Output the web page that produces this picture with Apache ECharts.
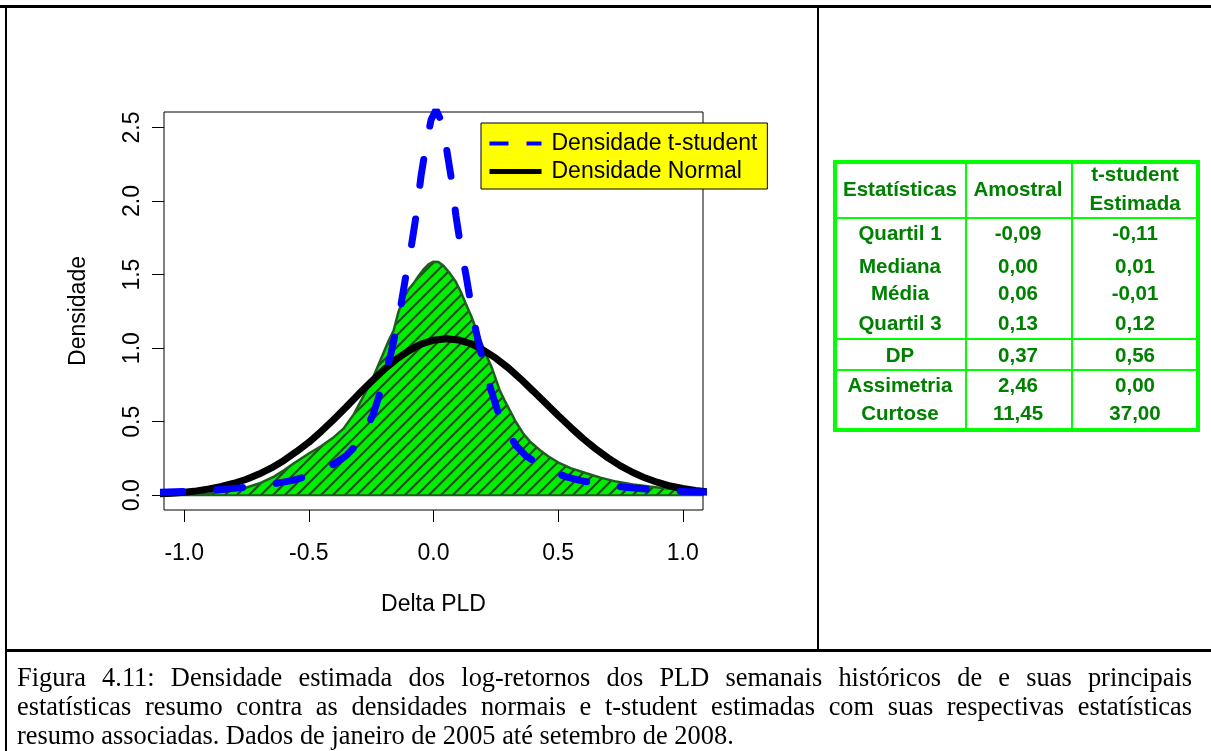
<!DOCTYPE html>
<html><head><meta charset="utf-8">
<script src="https://cdn.jsdelivr.net/npm/echarts@6.0.0/dist/echarts.min.js"></script>
<style>
html,body{margin:0;padding:0;background:#fff;width:1211px;height:751px;overflow:hidden;}
#chart{position:absolute;left:0;top:0;width:1211px;height:751px;}
.ln{position:absolute;background:#000;}
.g{position:absolute;background:#00ff00;}
.cell{position:absolute;transform:translate(-50%,-50%);white-space:nowrap;font-family:'Liberation Sans',Arial,sans-serif;font-weight:bold;font-size:20.5px;color:#008000;line-height:1;}
#cap{position:absolute;left:17px;width:1175px;top:663px;font-family:'Liberation Serif','Times New Roman',serif;font-size:26.4px;line-height:29px;color:#000;}
#cap div{text-align:justify;text-align-last:justify;}
#cap div.last{text-align:left;text-align-last:left;}
</style></head>
<body>
<div id="chart"></div>
<div id="overlay"></div>
<script>
// ---------- data ----------
const xTicks = [-1.0, -0.5, 0.0, 0.5, 1.0];
const yTicks = [0.0, 0.5, 1.0, 1.5, 2.0, 2.5];

// sample kernel density (green hatched)
const kdeX = [-1.10,-1.00,-0.95,-0.90,-0.83,-0.76,-0.70,-0.64,-0.60,-0.56,-0.50,-0.45,-0.40,-0.36,-0.32,-0.29,-0.26,-0.24,-0.21,-0.18,-0.16,-0.14,-0.12,-0.10,-0.08,-0.06,-0.04,-0.02,0.00,0.02,0.04,0.065,0.09,0.112,0.13,0.152,0.175,0.198,0.215,0.232,0.25,0.265,0.285,0.305,0.33,0.359,0.39,0.426,0.46,0.506,0.55,0.613,0.67,0.733,0.80,0.867,0.93,1.00,1.05,1.10];
const kdeY = [0.002,0.005,0.008,0.013,0.025,0.048,0.080,0.127,0.170,0.218,0.284,0.335,0.395,0.455,0.550,0.645,0.740,0.810,0.930,1.050,1.120,1.250,1.340,1.400,1.440,1.490,1.535,1.570,1.588,1.585,1.560,1.510,1.450,1.374,1.300,1.215,1.110,1.011,0.940,0.875,0.790,0.716,0.645,0.580,0.500,0.422,0.360,0.308,0.265,0.218,0.185,0.150,0.120,0.093,0.074,0.059,0.047,0.036,0.029,0.024];

// fitted normal density (black)
const normX = [-1.10,-1.05,-1.00,-0.95,-0.90,-0.85,-0.80,-0.75,-0.70,-0.65,-0.60,-0.55,-0.50,-0.45,-0.40,-0.35,-0.30,-0.25,-0.20,-0.15,-0.10,-0.05,0.00,0.05,0.10,0.15,0.20,0.25,0.30,0.35,0.40,0.45,0.50,0.55,0.60,0.65,0.70,0.75,0.80,0.85,0.90,0.95,1.00,1.05,1.10];
const normY = [0.010,0.014,0.021,0.030,0.043,0.060,0.082,0.109,0.144,0.186,0.237,0.296,0.360,0.435,0.515,0.600,0.688,0.772,0.852,0.923,0.982,1.027,1.054,1.064,1.056,1.030,0.987,0.932,0.866,0.790,0.708,0.625,0.542,0.462,0.385,0.316,0.254,0.200,0.155,0.117,0.087,0.063,0.046,0.033,0.023];

// fitted t-student density (blue dashed)
const tX = [-1.11,-0.99,-0.91,-0.83,-0.76,-0.69,-0.63,-0.57,-0.51,-0.45,-0.40,-0.35,-0.31,-0.27,-0.24,-0.21,-0.19,-0.17,-0.15,-0.13,-0.11,-0.09,-0.07,-0.05,-0.03,-0.01,0.01,0.03,0.05,0.07,0.09,0.11,0.13,0.15,0.17,0.19,0.21,0.23,0.26,0.29,0.33,0.37,0.42,0.47,0.53,0.59,0.65,0.71,0.78,0.85,0.93,1.01,1.13];
const tY = [0.020,0.026,0.033,0.042,0.053,0.066,0.081,0.100,0.127,0.165,0.212,0.270,0.340,0.450,0.560,0.720,0.840,0.970,1.120,1.300,1.500,1.680,1.900,2.170,2.380,2.550,2.620,2.550,2.380,2.170,1.900,1.680,1.500,1.300,1.120,0.970,0.840,0.720,0.560,0.450,0.340,0.270,0.212,0.165,0.127,0.100,0.081,0.066,0.053,0.042,0.033,0.026,0.020];

const legendNames = ['Densidade t-student', 'Densidade Normal'];
const xName = 'Delta PLD';
const yName = 'Densidade';

// statistics table
const tableHead = ['Estatísticas', 'Amostral', 't-student', 'Estimada'];
const statNames = ['Quartil 1', 'Mediana', 'Média', 'Quartil 3', 'DP', 'Assimetria', 'Curtose'];
const statSample = ['-0,09', '0,00', '0,06', '0,13', '0,37', '2,46', '11,45'];
const statT = ['-0,11', '0,01', '-0,01', '0,12', '0,56', '0,00', '37,00'];

const captionLines = [
  'Figura 4.11: Densidade estimada dos log-retornos dos PLD semanais históricos de e suas principais',
  'estatísticas resumo contra as densidades normais e t-student estimadas com suas respectivas estatísticas',
  'resumo associadas. Dados de janeiro de 2005 até setembro de 2008.'
];

// ---------- page decoration (frame, table, caption) ----------
const ov = document.getElementById('overlay');
function box(cls, l, t, w, h) { const d = document.createElement('div'); d.className = cls; d.style.left = l + 'px'; d.style.top = t + 'px'; d.style.width = w + 'px'; d.style.height = h + 'px'; ov.appendChild(d); }
box('ln', 0, 5, 1211, 3);
box('ln', 5, 5, 2, 746);
box('ln', 817, 5, 2, 645);
box('ln', 5, 649, 1206, 3);

// table lines
box('g', 833, 160, 367, 4);
box('g', 833, 428, 367, 4);
box('g', 833, 160, 4, 272);
box('g', 1196, 160, 4, 272);
box('g', 965, 160, 2, 272);
box('g', 1071, 160, 2, 272);
box('g', 833, 217, 367, 2);
box('g', 833, 338, 367, 2);
box('g', 833, 369, 367, 2);

function cell(txt, cx, cy) { const d = document.createElement('div'); d.className = 'cell'; d.textContent = txt; d.style.left = cx + 'px'; d.style.top = cy + 'px'; ov.appendChild(d); }
const colX = [900, 1018, 1135];
const rowY = [233, 266, 293, 323, 355, 385, 413];
cell(tableHead[0], colX[0], 189);
cell(tableHead[1], colX[1], 189);
cell(tableHead[2], colX[2], 174);
cell(tableHead[3], colX[2], 203);
statNames.forEach((s, i) => { cell(s, colX[0], rowY[i]); cell(statSample[i], colX[1], rowY[i]); cell(statT[i], colX[2], rowY[i]); });

const cap = document.createElement('div'); cap.id = 'cap';
captionLines.forEach((l, i) => { const d = document.createElement('div'); d.textContent = l; if (i === captionLines.length - 1) d.className = 'last'; cap.appendChild(d); });
ov.appendChild(cap);

// ---------- chart ----------
const T = 12;
const pc = document.createElement('canvas'); pc.width = T; pc.height = T;
const cx = pc.getContext('2d');
cx.fillStyle = '#00ee00'; cx.fillRect(0, 0, T, T);
cx.strokeStyle = '#155215'; cx.lineWidth = 2.2;
cx.beginPath();
cx.moveTo(-1, T + 1); cx.lineTo(T + 1, -1);
cx.moveTo(-1, 1); cx.lineTo(1, -1);
cx.moveTo(T - 1, T + 1); cx.lineTo(T + 1, T - 1);
cx.stroke();

const zip = (a, b) => a.map((v, i) => [v, b[i]]);
const FONT = "'Liberation Sans', Arial, sans-serif";
const FS = 23;
const hiddenSymbol = { color: 'rgba(0,0,0,0)', borderWidth: 0, opacity: 0 };
const chart = echarts.init(document.getElementById('chart'), null, { renderer: 'canvas' });
chart.setOption({
  animation: false,
  backgroundColor: 'transparent',
  grid: { left: 164, top: 112, width: 539, height: 398, show: true, borderColor: '#000', borderWidth: 1, backgroundColor: 'transparent' },
  xAxis: {
    type: 'value', min: -1.081, max: 1.081,
    name: xName, nameLocation: 'middle', nameGap: 83,
    nameTextStyle: { fontSize: FS, color: '#000', fontFamily: FONT },
    axisLine: { show: false, onZero: false },
    splitLine: { show: false },
    axisTick: { show: true, customValues: xTicks, length: 12, lineStyle: { color: '#000', width: 1 } },
    axisLabel: { customValues: xTicks, margin: 32, fontSize: FS, color: '#000', fontFamily: FONT, formatter: v => Number(v).toFixed(1) }
  },
  yAxis: {
    type: 'value', min: -0.1, max: 2.605,
    name: yName, nameLocation: 'middle', nameGap: 74, nameRotate: 90,
    nameTextStyle: { fontSize: FS, color: '#000', fontFamily: FONT },
    axisLine: { show: false, onZero: false },
    splitLine: { show: false },
    axisTick: { show: true, customValues: yTicks, length: 12, lineStyle: { color: '#000', width: 1 } },
    axisLabel: { customValues: yTicks, rotate: 90, margin: 20, fontSize: FS, color: '#000', fontFamily: FONT, formatter: v => Number(v).toFixed(1) }
  },
  legend: {
    orient: 'vertical', left: 481, top: 123, z: 10,
    backgroundColor: '#ffff00', borderColor: '#000', borderWidth: 1, borderRadius: 0,
    padding: [9, 10, 6, 6], itemGap: 5, itemWidth: 52, itemHeight: 23,
    textStyle: { fontSize: FS, color: '#000', fontFamily: FONT, padding: [0, 0, 0, 5] },
    data: [
      { name: legendNames[0], itemStyle: hiddenSymbol, lineStyle: { width: 4, type: [19, 18], cap: 'butt' } },
      { name: legendNames[1], itemStyle: hiddenSymbol, lineStyle: { width: 5 } }
    ]
  },
  series: [
    { name: 'amostra', type: 'line', data: zip(kdeX, kdeY), symbol: 'none', silent: true, z: 1,
      lineStyle: { color: '#1e5e1e', width: 2.5 },
      areaStyle: { color: { image: pc, repeat: 'repeat' }, opacity: 1 } },
    { name: 'base', type: 'line', data: [[-1.1, 0], [1.1, 0]], symbol: 'none', silent: true, z: 1.5,
      lineStyle: { color: '#1e5e1e', width: 2 } },
    { name: legendNames[1], type: 'line', data: zip(normX, normY), symbol: 'none', z: 2,
      itemStyle: { color: '#000' }, lineStyle: { color: '#000', width: 7 } },
    { name: legendNames[0], type: 'line', data: zip(tX, tY), symbol: 'none', z: 3,
      itemStyle: { color: '#0000ff' }, lineStyle: { color: '#0000ff', width: 7, type: [26, 34], cap: 'round' } }
  ]
});
</script>
</body></html>
